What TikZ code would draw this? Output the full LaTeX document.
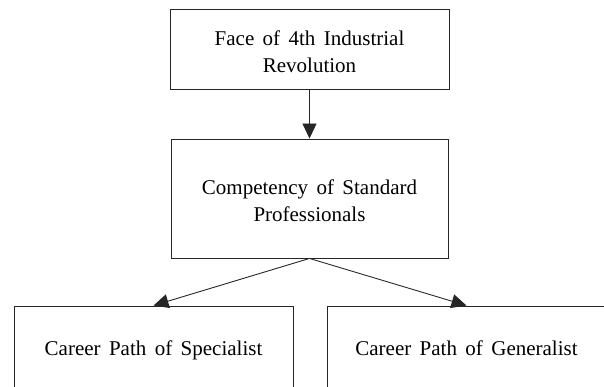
\documentclass[tikz,border=0pt]{standalone}
\usepackage{fontspec}
\setmainfont{Liberation Serif}[WordSpace=1.6]
\usetikzlibrary{arrows.meta}
\newcommand{\toplift}{\rule{0pt}{19.5pt}}
\begin{document}
\begin{tikzpicture}[x=1pt,y=-1pt,
  box/.style={draw=black!85,line width=0.9pt,rectangle,inner sep=0pt,
    align=center,font=\fontsize{21}{27}\selectfont},
  leaf/.style={box,minimum width=279pt,minimum height=82pt,
    text height=18pt,text depth=2pt},
  link/.style={draw=black!85,line width=0.9pt,-{Triangle[length=15pt,width=14pt]}}]
  \useasboundingbox (0,0) rectangle (604,387);
  \node[box,minimum width=279pt,minimum height=80pt] (face) at (309.5,49)
    {\toplift Face of 4th Industrial\\Revolution};
  \node[box,minimum width=277pt,minimum height=119pt] (comp) at (309.5,198.5)
    {\toplift Competency of Standard\\Professionals};
  \node[leaf] (spec) at (153.5,347) {Career Path of Specialist};
  \node[leaf] (gen) at (466.5,347) {Career Path of Generalist};
  \draw[link] (face.south) -- (comp.north);
  \draw[link] (comp.south) -- (spec.north);
  \draw[link] (comp.south) -- (gen.north);
\end{tikzpicture}
\end{document}
